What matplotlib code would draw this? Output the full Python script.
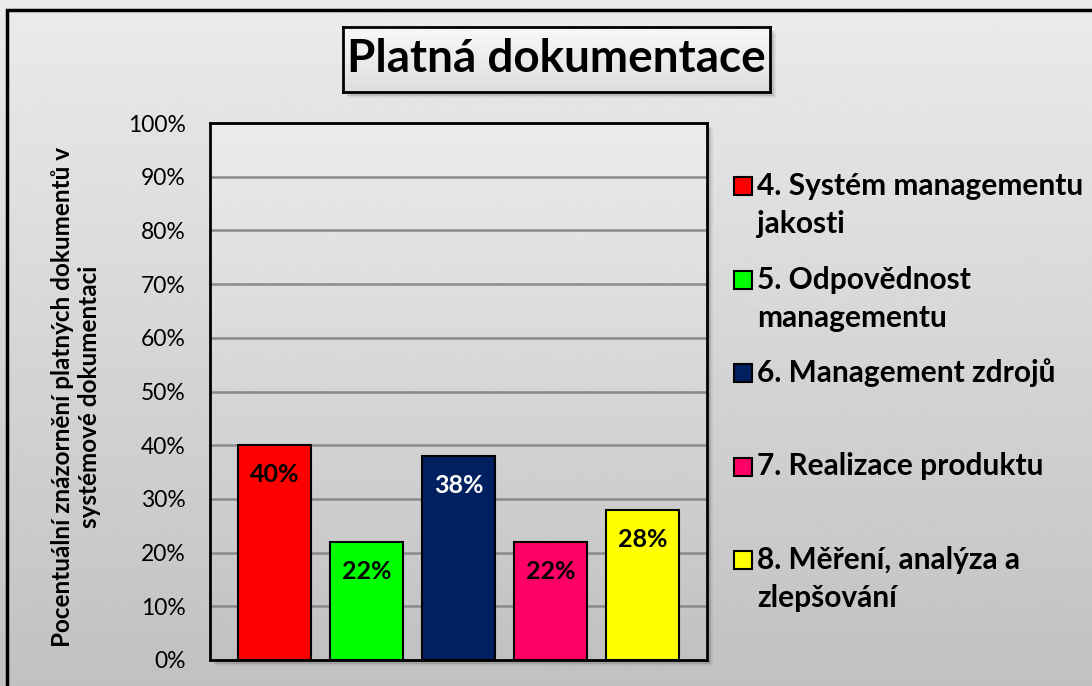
import matplotlib

matplotlib.use("Agg")
import matplotlib.pyplot as plt
import numpy as np
from matplotlib.patches import Rectangle

# data
series_labels = [
    "4. Systém managementu\njakosti",
    "5. Odpovědnost\nmanagementu",
    "6. Management zdrojů",
    "7. Realizace produktu",
    "8. Měření, analýza a\nzlepšování",
]
values = [0.40, 0.22, 0.38, 0.22, 0.28]
bar_colors = ["#ff0000", "#00ff00", "#002060", "#ff0066", "#ffff00"]
label_colors = ["black", "black", "white", "black", "black"]
y_ticks = np.arange(0, 1.01, 0.1)
tick_labels = [f"{int(round(t * 100))}%" for t in y_ticks]
chart_title = "Platná dokumentace"
y_title = "Pocentuální znázornění platných dokumentů v\nsystémové dokumentaci"

W, H = 1092, 686


def px_box(x0, y0, x1, y1):
    return [x0 / W, 1 - y1 / H, (x1 - x0) / W, (y1 - y0) / H]


plt.rcParams["font.family"] = ["Lato", "DejaVu Sans"]
fig = plt.figure(figsize=(W / 100, H / 100), dpi=100)

# background gradient + chart frame
bg = fig.add_axes([0, 0, 1, 1], zorder=0)
grad = np.linspace(235, 193, 256) / 255
bg.imshow(grad[:, None], cmap="gray", vmin=0, vmax=1, aspect="auto", extent=[0, 1, 0, 1])
bg.set_xlim(0, 1)
bg.set_ylim(0, 1)
bg.axis("off")
bg.add_patch(Rectangle((7 / W, -0.2), 2, 1 - 10 / H + 0.2, fill=False, ec="black", lw=2.5))

# soft shadows for plot area and title box
for off, a in [(2, 0.18), (4, 0.12), (6, 0.06)]:
    x0, y0, w, h = px_box(210 + off, 123 + off, 707 + off, 660 + off)
    bg.add_patch(Rectangle((x0, y0), w, h, color="black", alpha=a, lw=0))
    x0, y0, w, h = px_box(343 + off, 27 + off, 770 + off, 92 + off)
    bg.add_patch(Rectangle((x0, y0), w, h, color="black", alpha=a, lw=0))

# plot area
ax = fig.add_axes(px_box(210, 123, 707, 660), zorder=2)
ax.imshow(grad[:, None], cmap="gray", vmin=0, vmax=1, aspect="auto",
          extent=[-0.704, 4.704, 0, 1], zorder=0)
x = np.arange(len(values))
ax.bar(x, values, width=0.8, color=bar_colors, edgecolor="black", lw=1.5, zorder=3)
for xi, v, c in zip(x, values, label_colors):
    ax.text(xi, v - 0.055, f"{int(round(v * 100))}%", ha="center", va="center",
            fontsize=18, fontweight="bold", color=c, zorder=4)
ax.set_xlim(-0.704, 4.704)
ax.set_ylim(0, 1)
ax.set_yticks(y_ticks)
ax.set_yticklabels(tick_labels)
ax.set_xticks([])
ax.yaxis.grid(True, color="#8a8a8a", lw=1.8, zorder=1)
ax.set_axisbelow(True)
ax.tick_params(axis="y", length=0, pad=17.5, labelsize=16.5)
for sp in ax.spines.values():
    sp.set_color("black")
    sp.set_linewidth(2)

fig.text(76 / W, 1 - 397 / H, y_title, rotation=90, ha="center", va="center",
         fontsize=17.5, fontweight="bold", linespacing=1.25)

# title box
tax = fig.add_axes(px_box(343, 27, 770, 92), zorder=3)
tgrad = np.linspace(248, 222, 64) / 255
tax.imshow(tgrad[:, None], cmap="gray", vmin=0, vmax=1, aspect="auto", extent=[0, 1, 0, 1])
tax.set_xticks([])
tax.set_yticks([])
for sp in tax.spines.values():
    sp.set_color("black")
    sp.set_linewidth(2)
tax.text(0.5, 0.5, chart_title, ha="center", va="center", fontsize=33,
         fontweight="bold", transform=tax.transAxes)

# legend, drawn by hand to match the spacing
for i, (lab, col) in enumerate(zip(series_labels, bar_colors)):
    yc = 186 + i * 93.5
    x0, y0, w, h = px_box(734, yc - 9, 752, yc + 9)
    bg.add_patch(Rectangle((x0, y0), w, h, fc=col, ec="black", lw=1.5, zorder=5))
    for j, line in enumerate(lab.split("\n")):
        fig.text(757 / W, 1 - (yc + j * 38) / H, line, ha="left", va="center",
                 fontsize=21.5, fontweight="bold")

fig.savefig("out.png", dpi=100)
